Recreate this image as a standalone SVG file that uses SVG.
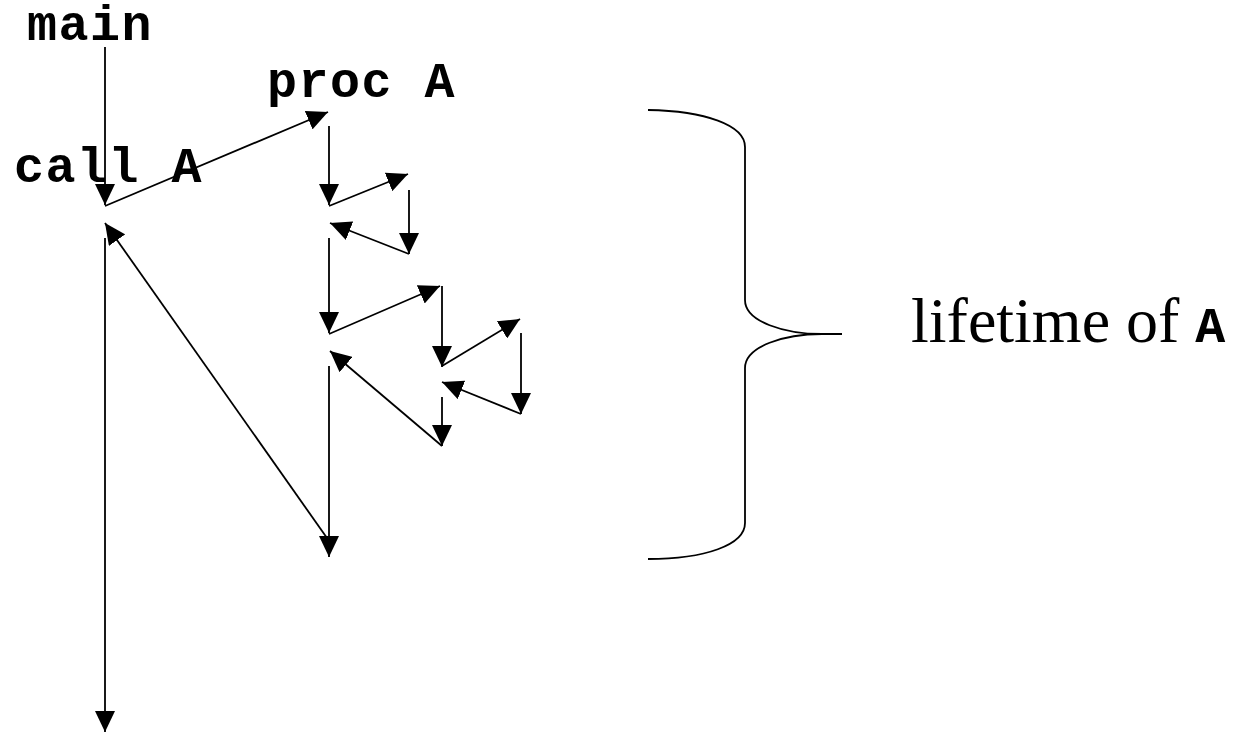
<svg xmlns="http://www.w3.org/2000/svg" width="1250" height="733" viewBox="0 0 1250 733">
  <style>
    .code { font-family: "Liberation Mono", "Courier New", monospace; font-weight: bold; font-size: 50px; letter-spacing: 1.5px; fill: #000; }
    .serif { font-family: "Liberation Serif", "Times New Roman", serif; font-size: 64px; fill: #000; }
    .flow { stroke: #000; stroke-width: 1.8; fill: none; marker-end: url(#head); }
    .brace { stroke: #000; stroke-width: 1.8; fill: none; }
  </style>
  <defs>
    <marker id="head" markerUnits="userSpaceOnUse" viewBox="0 0 21 20" markerWidth="21" markerHeight="20" refX="21" refY="10" orient="auto">
      <path d="M0,0 L21,10 L0,20 Z" fill="#000"/>
    </marker>
  </defs>
  <rect width="1250" height="733" fill="#fff"/>

  <g id="label-main"><text class="code" x="27" y="40">main</text></g>
  <g id="label-procA"><text class="code" x="267" y="97">proc A</text></g>
  <g id="label-callA"><text class="code" x="14" y="182">call A</text></g>

  <g id="connectors">
    <!-- main thread up to the call -->
    <line class="flow" x1="105" y1="47" x2="105" y2="205"/>
    <line class="flow" x1="105" y1="206" x2="328" y2="112"/>
    <!-- body of A -->
    <line class="flow" x1="329" y1="126" x2="329" y2="205"/>
    <line class="flow" x1="329" y1="206" x2="408" y2="174"/>
    <line class="flow" x1="409" y1="190" x2="409" y2="254"/>
    <line class="flow" x1="409" y1="254" x2="330" y2="223"/>
    <line class="flow" x1="329" y1="238" x2="329" y2="333"/>
    <line class="flow" x1="329" y1="334" x2="440" y2="286"/>
    <line class="flow" x1="442" y1="286" x2="442" y2="367"/>
    <line class="flow" x1="442" y1="366" x2="520" y2="319"/>
    <line class="flow" x1="521" y1="333" x2="521" y2="414"/>
    <line class="flow" x1="521" y1="414" x2="442" y2="382"/>
    <line class="flow" x1="442" y1="397" x2="442" y2="446"/>
    <line class="flow" x1="442" y1="446" x2="330" y2="351"/>
    <line class="flow" x1="329" y1="366" x2="329" y2="557"/>
    <!-- return to main and continue -->
    <line class="flow" x1="327" y1="538" x2="105" y2="223"/>
    <line class="flow" x1="105" y1="238" x2="105" y2="732"/>
  </g>

  <g id="lifetime-brace">
    <path class="brace" d="M648,110 C705,111 745,125 745,147 L745,300 C745,322 785,334 822,334 L842,334 M822,334 C785,334 745,346 745,368 L745,523 C745,545 705,559 648,559"/>
  </g>

  <g id="label-lifetime">
    <text x="911" y="342"><tspan class="serif">lifetime of </tspan><tspan class="code" font-size="56px" letter-spacing="0">A</tspan></text>
  </g>
</svg>
